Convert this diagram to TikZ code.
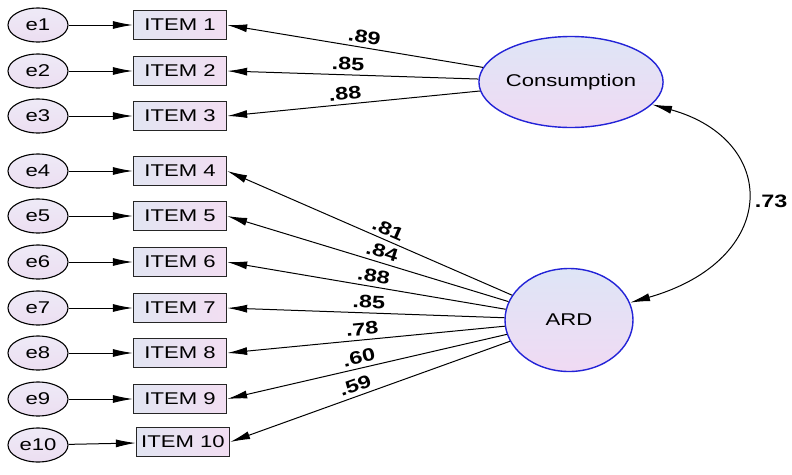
\documentclass[tikz,border=0pt]{standalone}
\usepackage{fontspec}
\setmainfont{Liberation Sans}[FakeStretch=1.3]
\usetikzlibrary{arrows.meta,shapes.geometric}
\definecolor{latentblue}{RGB}{35,35,215}
\definecolor{errtop}{RGB}{238,234,247}
\definecolor{errbot}{RGB}{236,222,241}
\definecolor{itemleft}{RGB}{226,229,242}
\definecolor{itemright}{RGB}{242,222,242}
\definecolor{lattop}{RGB}{222,229,246}
\definecolor{latbot}{RGB}{240,218,243}
\begin{document}
\begin{tikzpicture}[x=1pt,y=-1pt]

      \tikzset{errnode/.style={draw, ellipse, line width=1.1pt, top color=errtop, bottom color=errbot, minimum width=60pt, minimum height=34pt, inner sep=0pt, font=\fontsize{17}{20}\selectfont},
               itembox/.style={draw=black!85, rectangle, line width=1.3pt, left color=itemleft, right color=itemright, minimum width=93pt, minimum height=29pt, inner sep=0pt, font=\fontsize{17}{20}\selectfont},
               latent/.style={draw=latentblue, ellipse, line width=1.4pt, top color=lattop, bottom color=latbot, inner sep=0pt, font=\fontsize{17}{20}\selectfont},
               loading/.style={{Latex[length=20pt,width=8pt]}-, line width=1pt},
               errarrow/.style={-{Latex[length=20pt,width=8pt]}, line width=1pt},
               covar/.style={{Latex[length=20pt,width=8pt]}-{Latex[length=20pt,width=8pt]}, line width=1pt},
               load/.style={sloped, above=3pt, inner sep=1pt, font=\bfseries\fontsize{18}{20}\selectfont},
               corr/.style={right=8pt, inner sep=1pt, font=\bfseries\fontsize{18}{20}\selectfont}}
      \useasboundingbox (0,0) rectangle (792,474);
%% Latent variables
      	\node[latent, minimum width=163pt, minimum height=91pt] (cons) at (571,82) {Consumption};
      	\node[latent, minimum width=128pt, minimum height=103pt] (ard) at (569,320) {ARD};
%% Items
      	\node[itembox] (item1) at (180,25) {ITEM 1};
      	\node[itembox] (item2) at (180,71) {ITEM 2};
      	\node[itembox] (item3) at (180,116) {ITEM 3};
      	\node[itembox] (item4) at (180,171) {ITEM 4};
      	\node[itembox] (item5) at (180,216) {ITEM 5};
      	\node[itembox] (item6) at (180,262) {ITEM 6};
      	\node[itembox] (item7) at (180,308) {ITEM 7};
      	\node[itembox] (item8) at (180,353) {ITEM 8};
      	\node[itembox] (item9) at (180,399) {ITEM 9};
      	\node[itembox] (item10) at (183,442) {ITEM 10};
%% Errors
      	\node[errnode] (e1) at (38,25) {e1};
      	\node[errnode] (e2) at (38,71) {e2};
      	\node[errnode] (e3) at (38,116) {e3};
      	\node[errnode] (e4) at (38,171) {e4};
      	\node[errnode] (e5) at (38,216) {e5};
      	\node[errnode] (e6) at (38,262) {e6};
      	\node[errnode] (e7) at (38,308) {e7};
      	\node[errnode] (e8) at (38,353) {e8};
      	\node[errnode] (e9) at (38,399) {e9};
      	\node[errnode] (e10) at (38,445) {e10};
%Error paths
		\draw[errarrow] (e1) -- (item1);
		\draw[errarrow] (e2) -- (item2);
		\draw[errarrow] (e3) -- (item3);
		\draw[errarrow] (e4) -- (item4);
		\draw[errarrow] (e5) -- (item5);
		\draw[errarrow] (e6) -- (item6);
		\draw[errarrow] (e7) -- (item7);
		\draw[errarrow] (e8) -- (item8);
		\draw[errarrow] (e9) -- (item9);
		\draw[errarrow] (e10) -- (item10);
%Loadings
		\draw[loading] (item1.east) -- node[load, pos=0.53] {.89} (cons);
		\draw[loading] (item2.east) -- node[load, pos=0.48] {.85} (cons);
		\draw[loading] (item3.east) -- node[load, pos=0.47] {.88} (cons);
		\draw[loading] (item4.east) -- node[load, pos=0.55] {.81} (ard);
		\draw[loading] (item5.east) -- node[load, pos=0.54] {.84} (ard);
		\draw[loading] (item6.east) -- node[load, pos=0.52] {.88} (ard);
		\draw[loading] (item7.east) -- node[load, pos=0.51] {.85} (ard);
		\draw[loading] (item8.east) -- node[load, pos=0.49] {.78} (ard);
		\draw[loading] (item9.east) -- node[load, pos=0.48] {.60} (ard);
		\draw[loading] (item10.east) -- node[load, pos=0.46] {.59} (ard);
%Correlation
		\draw[covar] (cons) .. controls (780,140) and (780,260) .. node[corr, pos=0.5] {.73} (ard);

	\end{tikzpicture}
\end{document}
